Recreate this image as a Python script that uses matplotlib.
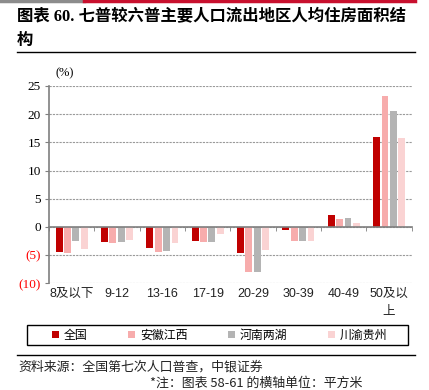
import numpy as np
from matplotlib import pyplot as plt
from matplotlib.patches import Patch, Rectangle
from matplotlib.lines import Line2D

plt.rcParams['font.family'] = ['Liberation Sans', 'Noto Sans CJK SC', 'DejaVu Sans']

# 数据（%）
categories = ['8及以下', '9-12', '13-16', '17-19', '20-29', '30-39', '40-49', '50及以\n上']
series_names = ['全国', '安徽江西', '河南两湖', '川渝贵州']
quanguo = [-4.4, -2.6, -3.7, -2.5, -4.7, -0.6, 2.2, 16.0]
anhui_jiangxi = [-4.6, -2.8, -4.4, -2.6, -8.0, -2.5, 1.35, 23.3]
henan_lianghu = [-2.5, -2.6, -4.2, -2.6, -8.0, -2.5, 1.5, 20.6]
chuanyu_guizhou = [-3.9, -2.35, -2.9, -1.2, -4.1, -2.5, 0.7, 15.8]
yticks = [-10, -5, 0, 5, 10, 15, 20, 25]

colors = ['#C00000', '#F7ACAC', '#B4B4B4', '#FAD3D3']
series = [quanguo, anhui_jiangxi, henan_lianghu, chuanyu_guizhou]

fig = plt.figure(figsize=(4.29, 3.90), dpi=100)

# 顶部色条
fig.add_artist(Line2D([0, 0.195], [0.997, 0.997], color='#8C8C8C', lw=2.5))
fig.add_artist(Line2D([0.195, 0.968], [0.997, 0.997], color='#C8102E', lw=2.5))

# 标题
fig.text(0.04, 0.955, '图表 60. 七普较六普主要人口流出地区人均住房面积结', fontsize=11.8,
         fontweight='bold', family=['Liberation Serif', 'Noto Sans CJK SC'], va='center')
fig.text(0.04, 0.897, '构', fontsize=11.8, fontweight='bold',
         family=['Noto Sans CJK SC'], va='center')
fig.add_artist(Line2D([0.04, 0.968], [0.866, 0.866], color='black', lw=1))

ax = fig.add_axes([0.1142, 0.2736, 0.8455, 0.5059])

x = np.arange(len(categories))
step = 0.184
w = 0.148
for i, (vals, c, name) in enumerate(zip(series, colors, series_names)):
    ax.bar(x + (i - 1.5) * step, vals, width=w, color=c, label=name, zorder=3)

ax.set_xlim(-0.5, len(categories) - 0.5)
ax.set_ylim(-10, 25)
ax.set_yticks(yticks)
ax.set_yticklabels([f'({-v})' if v < 0 else str(v) for v in yticks],
                   family='Liberation Serif', fontsize=9.5)
for lbl, v in zip(ax.get_yticklabels(), yticks):
    if v < 0:
        lbl.set_color('#FF0000')
ax.grid(axis='y', linestyle=(0, (2, 1)), color='#9A9A9A', lw=0.8, zorder=0)

for s in ['top', 'right']:
    ax.spines[s].set_visible(False)
ax.spines['left'].set_color('#7F7F7F')
ax.spines['left'].set_linewidth(1.2)
ax.spines['bottom'].set_position(('data', 0))
ax.spines['bottom'].set_color('#7F7F7F')
ax.spines['bottom'].set_linewidth(1.2)
ax.spines['bottom'].set_zorder(4)
ax.tick_params(axis='y', length=3, color='#7F7F7F', pad=3)

# x 轴：组界处刻度，标签放在底部
ax.set_xticks(np.arange(-0.5, len(categories)), minor=True)
ax.set_xticks([])
ax.tick_params(axis='x', which='minor', length=3, direction='out', color='#7F7F7F')
for xi, lab in zip(x, categories):
    ax.text(xi, -10.9, lab, ha='center', va='top', fontsize=9,
            family=['Liberation Sans', 'Noto Sans CJK SC'], color='#222222',
            linespacing=1.6)

ax.text(-0.35, 26.2, '(%)', fontsize=9, family='Liberation Serif', ha='left', va='bottom')

# 图例
fig.add_artist(Rectangle((0.063, 0.116), 0.888, 0.05, transform=fig.transFigure,
                         facecolor='none', edgecolor='black', lw=1))
handles = [Patch(facecolor=c, edgecolor='none') for c in colors]
fig.legend(handles, series_names, loc='center', ncol=4,
           bbox_to_anchor=(0.512, 0.141), frameon=False,
           handlelength=0.6, handleheight=0.6,
           handletextpad=0.4, columnspacing=3.4,
           prop={'family': ['Noto Sans CJK SC'], 'size': 8.6})

# 底部来源
fig.add_artist(Line2D([0.04, 0.968], [0.089, 0.089], color='black', lw=1))
fig.text(0.042, 0.058, '资料来源：全国第七次人口普查，中银证券', fontsize=9.3,
         family=['Noto Sans CJK SC'], style='italic', va='center', color='#222222')
fig.text(0.35, 0.018, '*注：图表 58-61 的横轴单位：平方米', fontsize=9.3,
         family=['Noto Sans CJK SC'], style='italic', va='center', color='#222222')

fig.savefig('out.png', dpi=100)
